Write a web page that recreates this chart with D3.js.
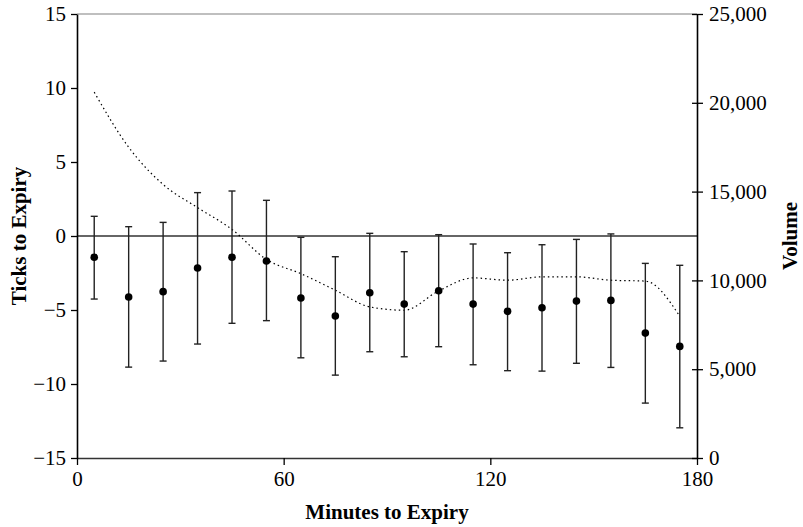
<!DOCTYPE html>
<html>
<head>
<meta charset="utf-8">
<script src="https://cdn.jsdelivr.net/npm/d3@7"></script>
<style>
  body { margin: 0; background: #fff; }
  text { font-family: "Liberation Serif", "DejaVu Serif", serif; }
</style>
</head>
<body>
<div id="chart"></div>
<script>
// minutes to expiry (bucket centres)
var minutes = [5, 15, 25, 35, 45, 55, 65, 75, 85, 95, 105, 115, 125, 135, 145, 155, 165, 175];
// ticks to expiry: mean and error bar ends
var meanTicks = [-1.44, -4.12, -3.76, -2.16, -1.44, -1.69, -4.19, -5.41, -3.83, -4.6, -3.7, -4.6, -5.09, -4.85, -4.4, -4.35, -6.56, -7.46];
var upperTicks = [1.33, 0.63, 0.92, 2.93, 3.04, 2.41, -0.09, -1.40, 0.18, -1.06, 0.09, -0.54, -1.13, -0.59, -0.23, 0.14, -1.85, -1.98];
var lowerTicks = [-4.26, -8.86, -8.45, -7.3, -5.9, -5.72, -8.23, -9.4, -7.82, -8.16, -7.48, -8.7, -9.1, -9.13, -8.6, -8.88, -11.29, -12.96];
// volume (right axis)
var volume = [20600, 17500, 15400, 14100, 12870, 11180, 10380, 9450, 8510, 8320, 9410, 10140, 10010, 10200, 10200, 10010, 9960, 7980];

var xTicks = [0, 60, 120, 180];
var yTicks = [-15, -10, -5, 0, 5, 10, 15];
var volTicks = [0, 5000, 10000, 15000, 20000, 25000];

function drawChart() {
    var margin = {top: 14, right: 106, bottom: 69, left: 77},
        width = 803 - margin.left - margin.right,
        height = 527 - margin.top - margin.bottom;

    var svg = d3.select("#chart")
      .append("svg")
        .attr("width", 803)
        .attr("height", 527)
      .append("g")
        .attr("transform", "translate(" + margin.left + "," + margin.top + ")");

    var x = d3.scaleLinear().domain([0, 180]).range([0, width]);
    var y = d3.scaleLinear().domain([-15, 15]).range([height, 0]);
    var yVol = d3.scaleLinear().domain([0, 25000]).range([height, 0]);

    // top border
    svg.append("line")
      .attr("x1", 0).attr("x2", width)
      .attr("y1", 0).attr("y2", 0)
      .attr("stroke", "#808080").attr("stroke-width", 1.2);

    // zero line
    svg.append("line")
      .attr("x1", 0).attr("x2", width)
      .attr("y1", y(0)).attr("y2", y(0))
      .attr("stroke", "#333").attr("stroke-width", 1.4);

    // volume line
    var line = d3.line()
      .x((d, i) => x(minutes[i]))
      .y(d => yVol(d))
      .curve(d3.curveMonotoneX);

    svg.append("path")
      .datum(volume)
      .attr("d", line)
      .attr("fill", "none")
      .attr("stroke", "#000")
      .attr("stroke-width", 1.2)
      .attr("stroke-dasharray", "1.5,3");

    // error bars
    var bars = svg.selectAll(".bar")
      .data(minutes).enter()
      .append("g");

    bars.append("line")
      .attr("x1", d => x(d)).attr("x2", d => x(d))
      .attr("y1", (d, i) => y(upperTicks[i]))
      .attr("y2", (d, i) => y(lowerTicks[i]))
      .attr("stroke", "#222").attr("stroke-width", 1.4);

    bars.append("line")
      .attr("x1", d => x(d) - 3.5).attr("x2", d => x(d) + 3.5)
      .attr("y1", (d, i) => y(upperTicks[i]))
      .attr("y2", (d, i) => y(upperTicks[i]))
      .attr("stroke", "#222").attr("stroke-width", 1.4);

    bars.append("line")
      .attr("x1", d => x(d) - 3.5).attr("x2", d => x(d) + 3.5)
      .attr("y1", (d, i) => y(lowerTicks[i]))
      .attr("y2", (d, i) => y(lowerTicks[i]))
      .attr("stroke", "#222").attr("stroke-width", 1.4);

    bars.append("circle")
      .attr("cx", d => x(d))
      .attr("cy", (d, i) => y(meanTicks[i]))
      .attr("r", 3.8)
      .attr("fill", "#000");

    // axes
    var xAxis = svg.append("g")
      .attr("transform", "translate(0," + height + ")")
      .call(d3.axisBottom(x).tickValues(xTicks).tickSizeInner(7).tickSizeOuter(0).tickPadding(6));

    var yAxis = svg.append("g")
      .call(d3.axisLeft(y).tickValues(yTicks).tickSizeInner(6).tickSizeOuter(0).tickPadding(5));

    var volAxis = svg.append("g")
      .attr("transform", "translate(" + width + ",0)")
      .call(d3.axisRight(yVol).tickValues(volTicks).tickFormat(d3.format(",")).tickSizeInner(6).tickSizeOuter(0).tickPadding(6));
    volAxis.selectAll(".tick line").attr("x1", -5);

    xAxis.select(".domain").attr("stroke", "#333").attr("stroke-width", 1.4);
    yAxis.select(".domain").attr("stroke", "#000").attr("stroke-width", 1.6);
    volAxis.select(".domain").attr("stroke", "#000").attr("stroke-width", 1.6);

    [xAxis, yAxis, volAxis].forEach(function(a) {
        a.selectAll(".tick line").attr("stroke", "#000").attr("stroke-width", 1.3);
        a.selectAll("text")
          .style("font-family", "Liberation Serif")
          .style("font-size", "21px")
          .attr("fill", "#000");
    });

    // axis titles
    svg.append("text")
      .attr("x", width / 2)
      .attr("y", height + 61)
      .attr("text-anchor", "middle")
      .style("font-size", "21px")
      .style("font-weight", "bold")
      .text("Minutes to Expiry");

    svg.append("text")
      .attr("transform", "translate(" + (26 - margin.left) + "," + (height / 2) + ") rotate(-90)")
      .attr("text-anchor", "middle")
      .style("font-size", "21px")
      .style("font-weight", "bold")
      .text("Ticks to Expiry");

    svg.append("text")
      .attr("transform", "translate(" + (width + 100) + "," + (height / 2) + ") rotate(-90)")
      .attr("text-anchor", "middle")
      .style("font-size", "21px")
      .style("font-weight", "bold")
      .text("Volume");
}

drawChart();
</script>
</body>
</html>
